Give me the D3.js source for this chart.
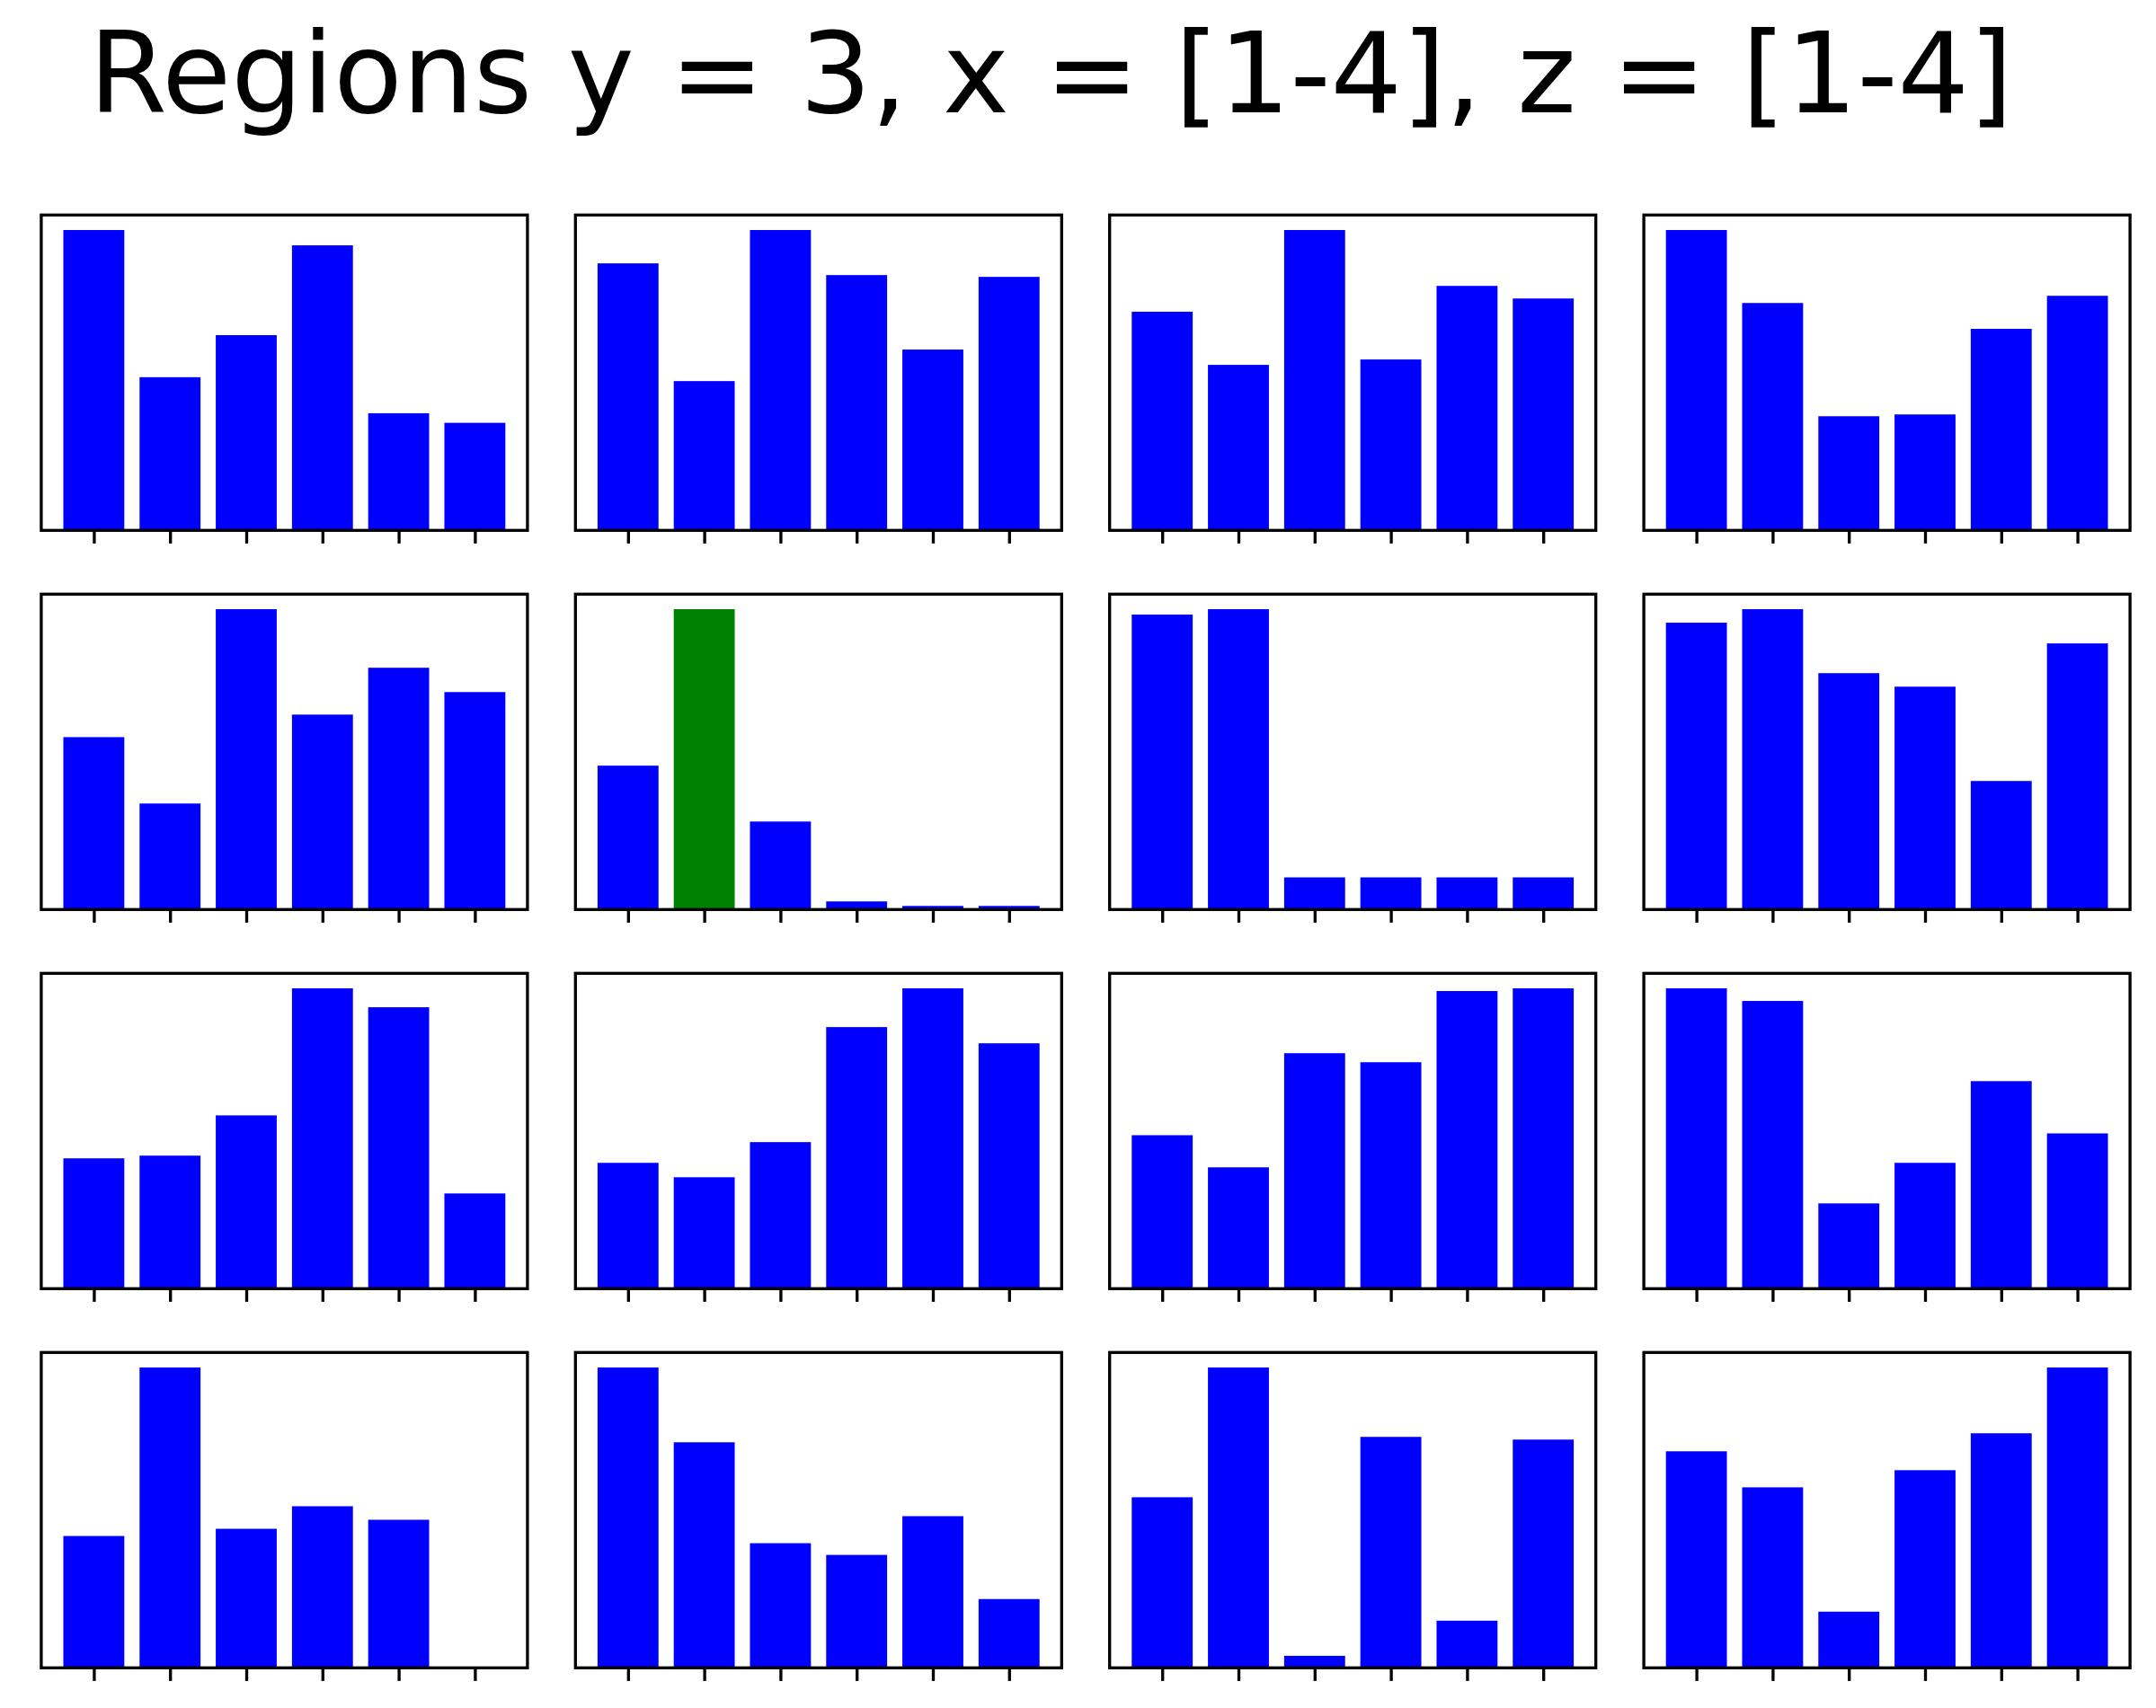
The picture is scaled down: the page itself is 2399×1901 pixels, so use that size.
<!DOCTYPE html>
<html>
<head>
<meta charset="utf-8">
<script src="https://cdn.jsdelivr.net/npm/d3@7"></script>
<style>
  html, body { margin: 0; padding: 0; background: #ffffff; }
  svg { display: block; }
</style>
</head>
<body>
<div id="chart"></div>
<script>
// ---------------- DATA ----------------
const titleText = "Regions y = 3, x = [1-4], z = [1-4]";
const barCategories = [0, 1, 2, 3, 4, 5];

// Row 1
const row1_col1 = [100, 51.0, 65.0, 94.9, 39.0, 35.8];
const row1_col2 = [88.9, 49.7, 100, 85.0, 60.2, 84.4];
const row1_col3 = [72.8, 55.1, 100, 56.9, 81.4, 77.2];
const row1_col4 = [100, 75.7, 38.0, 38.6, 67.1, 78.1];
// Row 2
const row2_col1 = [57.4, 35.3, 100, 64.9, 80.5, 72.4];
const row2_col2 = [47.9, 100, 29.3, 2.7, 1.2, 1.2];
const row2_col3 = [98.2, 100, 10.7, 10.7, 10.7, 10.7];
const row2_col4 = [95.5, 100, 78.7, 74.2, 42.8, 88.6];
// Row 3
const row3_col1 = [43.4, 44.3, 57.7, 100, 93.7, 31.7];
const row3_col2 = [41.9, 37.1, 48.8, 87.1, 100, 81.7];
const row3_col3 = [51.1, 40.4, 78.4, 75.4, 99.1, 100];
const row3_col4 = [100, 95.8, 28.4, 41.9, 69.1, 51.7];
// Row 4
const row4_col1 = [43.9, 100, 46.3, 53.8, 49.3, 0];
const row4_col2 = [100, 75.1, 41.5, 37.6, 50.5, 22.9];
const row4_col3 = [56.8, 100, 4.0, 76.9, 15.7, 76.0];
const row4_col4 = [72.1, 60.1, 18.7, 65.8, 78.1, 100];

const panels = [
  row1_col1, row1_col2, row1_col3, row1_col4,
  row2_col1, row2_col2, row2_col3, row2_col4,
  row3_col1, row3_col2, row3_col3, row3_col4,
  row4_col1, row4_col2, row4_col3, row4_col4
];
const highlightPanel = 5;   // row 2, col 2
const highlightBar = 1;

// ---------------- LAYOUT ----------------
const W = 2399, H = 1901;
const panelW = 541, panelH = 351;
const colLeft = [45.9, 640.3, 1234.7, 1829.1];
const rowTop = [239.3, 661.3, 1083.3, 1505.3];
const lw = 3.33;
const tickLen = 14.6;
const barColor = "#0000ff";
const hiColor = "#008000";

const svg = d3.select("#chart").append("svg")
  .attr("width", W).attr("height", H)
  .attr("viewBox", `0 0 ${W} ${H}`);

svg.append("rect").attr("width", W).attr("height", H).attr("fill", "#fff");

svg.append("text")
  .attr("x", 99)
  .attr("y", 125)
  .attr("font-family", "DejaVu Sans")
  .attr("font-size", 125)
  .attr("fill", "#000")
  .text(titleText);

const barWidth = 0.8;
const n = barCategories.length;
const pad = 0.05 * ((n - 1) + barWidth);
const x = d3.scaleLinear()
  .domain([-barWidth / 2 - pad, (n - 1) + barWidth / 2 + pad])
  .range([0, panelW]);

panels.forEach((vals, i) => {
  const r = Math.floor(i / 4), c = i % 4;
  const g = svg.append("g").attr("transform", `translate(${colLeft[c]},${rowTop[r]})`);
  const maxV = d3.max(vals);
  const y = d3.scaleLinear().domain([0, maxV * 1.05]).range([panelH, 0]);

  g.selectAll("rect.bar")
    .data(barCategories)
    .join("rect")
    .attr("class", "bar")
    .attr("x", d => x(d - barWidth / 2))
    .attr("width", d => x(d + barWidth / 2) - x(d - barWidth / 2))
    .attr("y", d => y(vals[d]))
    .attr("height", d => y(0) - y(vals[d]))
    .attr("fill", d => (i === highlightPanel && d === highlightBar) ? hiColor : barColor);

  const axis = d3.axisBottom(x)
    .tickValues(barCategories)
    .tickFormat("")
    .tickSizeInner(tickLen)
    .tickSizeOuter(0);
  const ax = g.append("g").attr("transform", `translate(0,${panelH})`).call(axis);
  ax.select(".domain").remove();
  ax.selectAll(".tick line").attr("stroke", "#000").attr("stroke-width", lw);

  g.append("rect")
    .attr("x", 0).attr("y", 0)
    .attr("width", panelW).attr("height", panelH)
    .attr("fill", "none")
    .attr("stroke", "#000")
    .attr("stroke-width", lw)
    .attr("stroke-linejoin", "miter");
});
</script>
</body>
</html>
